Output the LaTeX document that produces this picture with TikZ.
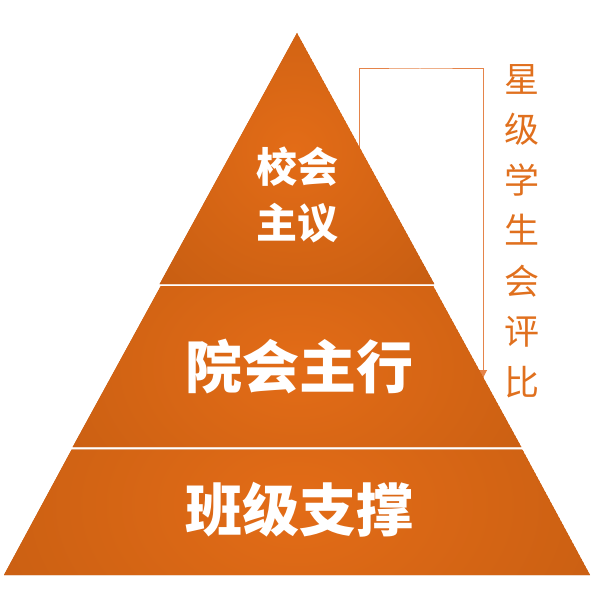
\documentclass[tikz,border=0pt]{standalone}
\usepackage{fontspec}
\newfontfamily\cjk{Noto Sans CJK SC}
\usetikzlibrary{arrows.meta}
\definecolor{tierouter}{HTML}{B8560F}
\definecolor{tierinner}{HTML}{E36C17}
\definecolor{sidetext}{HTML}{E0701E}
\definecolor{linkcol}{HTML}{E5844A}
\tikzset{
  tiertext/.style={text=white, inner sep=0pt, align=center},
  link/.style={draw=linkcol, line width=1pt, -{Triangle[width=8pt,length=8pt]}},
}
\begin{document}
\begin{tikzpicture}[x=1pt,y=-1pt]
\useasboundingbox (0,0) rectangle (594,596);
% connector (behind the pyramid)
\coordinate (c1) at (359,160);
\coordinate (ctop) at (420,69);
\coordinate (c2) at (483,378);
\draw[link] (c1) |- (ctop) -| (c2);
% tiers
\newcommand{\tiershade}[6]{%
  \begin{scope}
    \clip #1;
    \fill[tierouter] #1;
    \shade[inner color=tierinner, outer color=tierouter] (#2,#3) ellipse (#4 and #5);
  \end{scope}}
% top tier
\tiershade{(297,33) -- (434.3,284) -- (159.7,284) -- cycle}{294}{150}{300}{300}{}
% middle tier
\tiershade{(160.8,286) -- (433.2,286) -- (521.3,447) -- (72.7,447) -- cycle}{297}{367}{460}{330}{}
% bottom tier
\tiershade{(71.7,449.5) -- (522.3,449.5) -- (590,575) -- (4,575) -- cycle}{297}{505}{560}{380}{}
% texts
\node[tiertext, font={\cjk\bfseries\fontsize{41}{56}\selectfont}] (t1) at (297,195) {校会\\主议};
\node[tiertext, font={\cjk\bfseries\fontsize{57}{60}\selectfont}] (t2) at (299,367) {院会主行};
\node[tiertext, font={\cjk\bfseries\fontsize{57}{60}\selectfont}] (t3) at (299,510) {班级支撑};
\node[text=sidetext, inner sep=0pt, align=center, font={\cjk\fontsize{35}{50.5}\selectfont}] (side) at (522,231) {星\\级\\学\\生\\会\\评\\比};
\end{tikzpicture}
\end{document}
